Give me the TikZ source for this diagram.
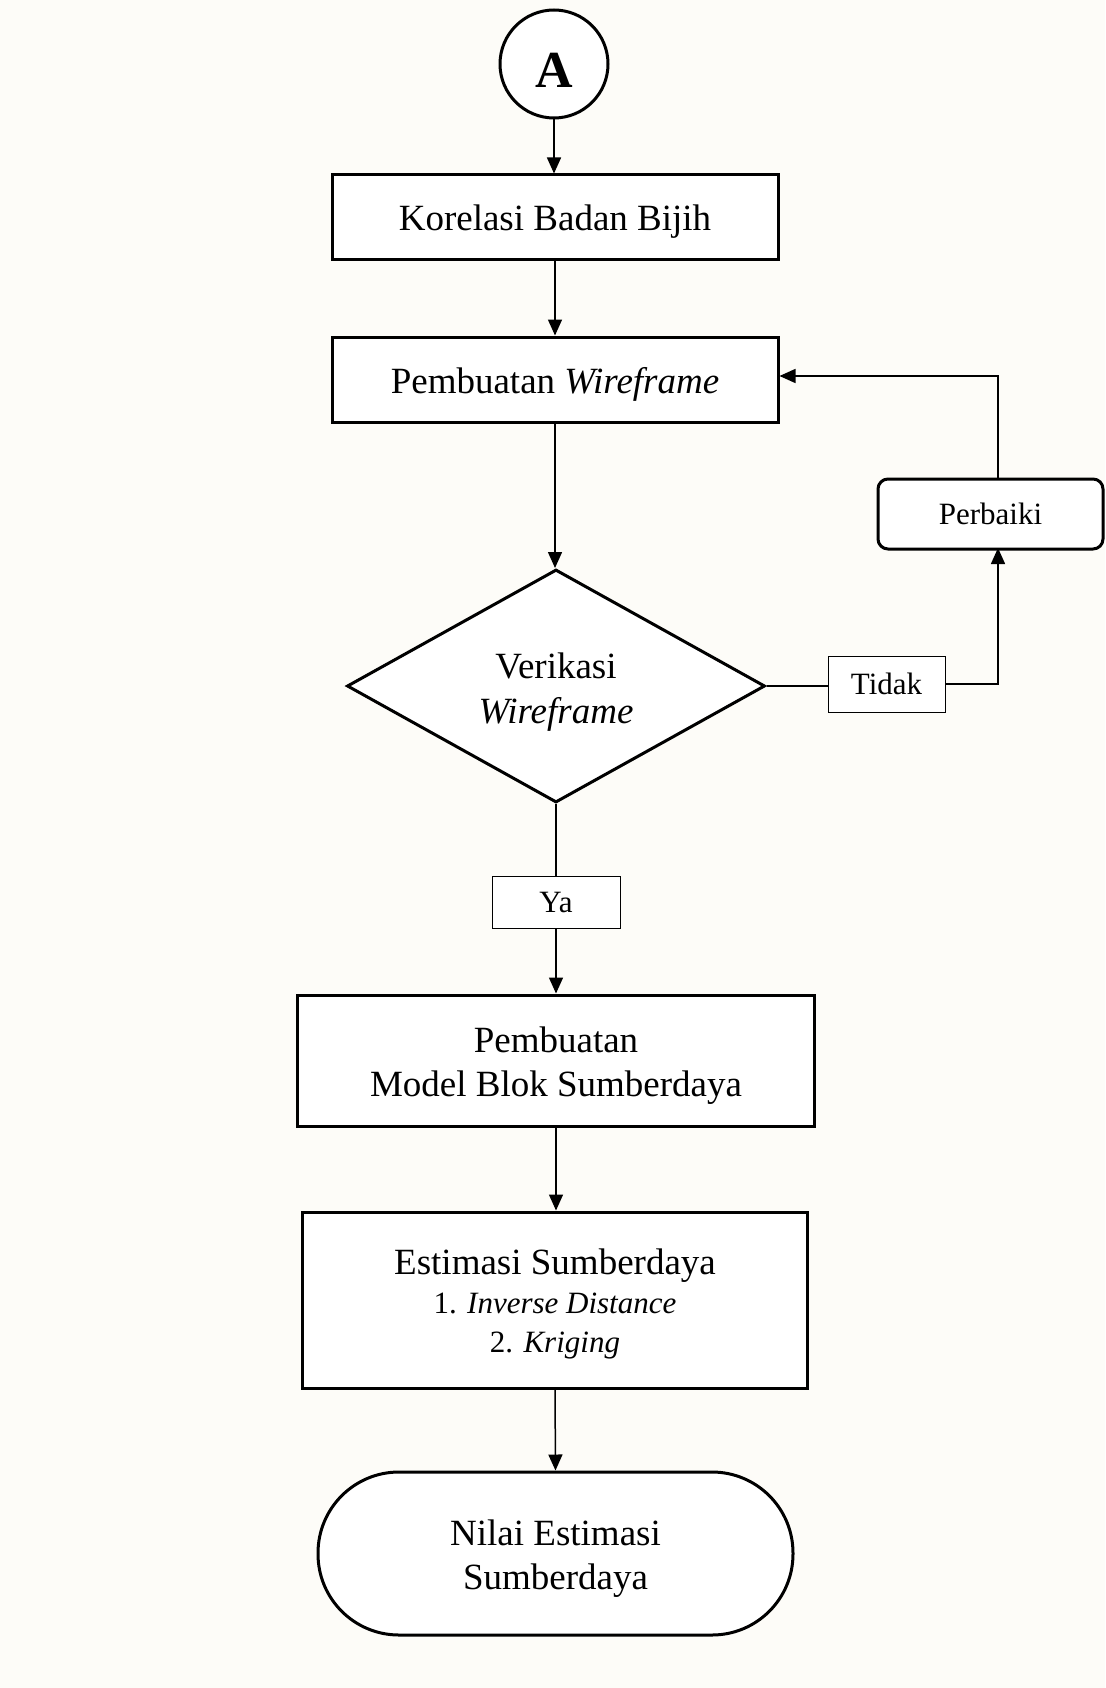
\documentclass[tikz,border=0pt]{standalone}
\usepackage{fontspec}
\setmainfont{Liberation Serif}
\usetikzlibrary{shapes.geometric,arrows.meta}
\definecolor{bgcol}{RGB}{253,252,248}
\tikzset{
  every picture/.style={x=1pt,y=-1pt},
  proc/.style={draw,line width=3pt,fill=white,inner sep=0pt},
  bigtxt/.style={align=center,font=\fontsize{37}{44}\selectfont,inner sep=0pt},
  lbl/.style={draw,line width=1pt,fill=white,inner sep=0pt,font=\fontsize{31}{36}\selectfont},
  conn/.style={line width=1.5pt,-{Triangle[length=16pt,width=14pt]}},
  plain/.style={line width=1.5pt}
}
\begin{document}
\begin{tikzpicture}
\fill[bgcol] (0,0) rectangle (1105,1688);
\useasboundingbox (0,0) rectangle (1105,1688);
% shapes
\node[circle,draw,line width=3pt,fill=white,minimum size=108pt,inner sep=0pt] (A) at (554,64) {};
\node[font=\fontsize{52}{60}\selectfont\bfseries,inner sep=0pt] (At) at (554,70) {A};
\node[proc,minimum width=446pt,minimum height=85pt] (kor) at (555,217.5) {};
\node[bigtxt] (kort) at (555,222) {Korelasi Badan Bijih};
\node[proc,minimum width=446pt,minimum height=85pt] (wf) at (555,379.5) {};
\node[bigtxt] (wft) at (555,384) {Pembuatan \textit{Wireframe}};
\node[diamond,draw,line width=3pt,fill=white,minimum width=418pt,minimum height=233pt,inner sep=0pt] (dia) at (556,686) {};
\node[bigtxt,font=\fontsize{37}{45}\selectfont] (diat) at (556,692) {Verikasi\\\textit{Wireframe}};
\node[lbl,minimum width=117pt,minimum height=56pt] (tidak) at (886.5,684) {Tidak};
\node[draw,line width=3pt,fill=white,rounded corners=10pt,inner sep=0pt,minimum width=225pt,minimum height=70pt,font=\fontsize{31}{36}\selectfont] (perb) at (990.5,514) {Perbaiki};
\coordinate (perbtop) at (998,478);
\coordinate (perbbot) at (998,548);
\node[lbl,minimum width=128pt,minimum height=52pt] (ya) at (556,902) {Ya};
\node[proc,minimum width=517pt,minimum height=131pt] (model) at (556,1060.5) {};
\node[bigtxt] (modelt) at (556,1066) {Pembuatan\\Model Blok Sumberdaya};
\node[proc,minimum width=505pt,minimum height=176pt] (est) at (555,1300) {};
\node[align=center,inner sep=0pt,font=\fontsize{31}{39}\selectfont] (estt) at (555,1304) {{\fontsize{37}{39}\selectfont Estimasi Sumberdaya}\\1. \textit{Inverse Distance}\\2. \textit{Kriging}};
\node[proc,minimum width=475pt,minimum height=163pt,rounded corners=81pt] (term) at (555.5,1553.5) {};
\node[bigtxt] (termt) at (555.5,1559) {Nilai Estimasi\\Sumberdaya};
% connectors
\draw[conn] (A.south) -- (A.south |- kor.north);
\draw[conn] (kor.south) -- (wf.north);
\draw[conn] (wf.south) -- (wf.south |- dia.north);
\draw[plain] (dia.east) -- (tidak.west |- dia.east);
\draw[conn] (tidak.east) -| (perbbot);
\draw[conn] (perbtop) |- ([yshift=3.5pt]wf.east);
\draw[plain] (dia.south) -- (ya.north);
\draw[conn] (ya.south) -- (ya.south |- model.north);
\draw[conn] (model.south) -- (model.south |- est.north);
\draw[conn] (est.south) -- (term.north);
\end{tikzpicture}
\end{document}
